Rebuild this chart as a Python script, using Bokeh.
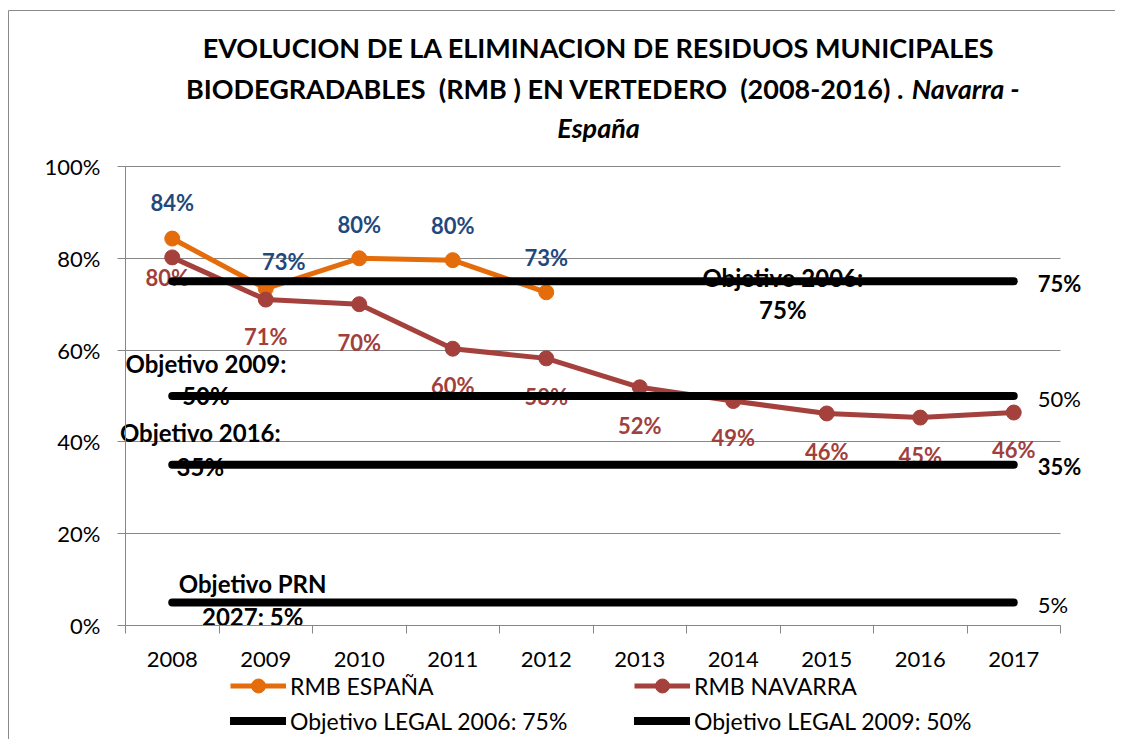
from bokeh.plotting import figure
from bokeh.models import (Range1d, FixedTicker, NumeralTickFormatter, ColumnDataSource,
                          LabelSet, Label, Legend, LegendItem, BoxAnnotation)
from bokeh.core.properties import value
from bokeh.embed import file_html
from bokeh.resources import INLINE

# ---------------- data ----------------
years = ["2008", "2009", "2010", "2011", "2012", "2013", "2014", "2015", "2016", "2017"]
espana = [84.3, 73.4, 80.0, 79.6, 72.6]            # % RMB a vertedero, España (2008-2012)
navarra = [80.2, 71.0, 70.0, 60.3, 58.2, 51.9, 48.9, 46.2, 45.3, 46.4]  # % Navarra
target_values = [75, 50, 35, 5]
target_top = ["Objetivo 2006:", "Objetivo 2009:", "Objetivo 2016:", "Objetivo PRN"]
target_bottom = ["75%", "50%", "35%", "2027: 5%"]
legend_names = ["RMB ESPAÑA", "RMB NAVARRA", "Objetivo LEGAL 2006: 75%", "Objetivo LEGAL 2009: 50%"]
y_ticks = [0, 0.2, 0.4, 0.6, 0.8, 1.0]
title_line1 = "EVOLUCION DE LA ELIMINACION DE RESIDUOS MUNICIPALES"
title_line2a = "BIODEGRADABLES \u00a0(RMB ) EN VERTEDERO \u00a0(2008-2016) ."
title_line2b = "Navarra -"
title_line3 = "España"

# ---------------- styles / layout ----------------
FONT = "Lato"
ORANGE = "#E46C0A"
RED = "#A5413D"
BLUE_TXT = "#1F497D"
RED_TXT = "#A0403C"
GRID = "#878787"

W, H = 1115, 739
PL, PR, PT, PB = 125, 1060, 166, 625   # plot-area edges in pixels
n = len(years)
ux = (PR - PL) / n
uy = (PB - PT) / 1.0
x0 = -0.5 - PL / ux
x1 = -0.5 + (W - PL) / ux
y1 = 1.0 + PT / uy
y0 = -(H - PB) / uy

es_dx = [0, 18, 0, 0, 0]
es_dy = [36, 27, 34, 35, 35]
nav_dx = [-5, 0, 0, 0, 0, 0, 0, 0, 0, 0]
nav_dy = [-20, -37, -38, -37, -38, -38, -36, -38, -38, -37]
target_lab_x = [6.53, 0.36, 0.30, 0.86]
target_lab_dy_top = [4, 33, 32, 19]
target_lab_dy_bot = [-28, 1, -2, -14]
right_weight = ["bold", "normal", "bold", "normal"]

idx = list(range(n))

p = figure(width=W, height=H, x_range=Range1d(x0, x1), y_range=Range1d(y0, y1),
           output_backend="svg", toolbar_location=None,
           min_border_left=0, min_border_right=0, min_border_top=0, min_border_bottom=0)
p.outline_line_color = None
p.background_fill_color = "white"
p.border_fill_color = "white"

# axes (fixed inside the canvas at the plot-area edges)
xa = p.xaxis[0]
xa.fixed_location = 0
xa.bounds = (-0.5, n - 0.5)
xa.ticker = FixedTicker(ticks=idx, minor_ticks=[i - 0.5 for i in range(n + 1)])
xa.major_label_overrides = {i: y for i, y in enumerate(years)}
xa.major_tick_out = 0
xa.major_tick_in = 0
xa.minor_tick_out = 8
xa.minor_tick_in = 0
xa.minor_tick_line_color = GRID
xa.axis_line_color = GRID
xa.major_label_text_font = FONT
xa.major_label_text_font_size = "22px"
xa.major_label_text_color = "black"
xa.major_label_standoff = 18

ya = p.yaxis[0]
ya.fixed_location = -0.5
ya.bounds = (0, 1)
ya.ticker = FixedTicker(ticks=y_ticks)
ya.formatter = NumeralTickFormatter(format="0%")
ya.major_tick_out = 8
ya.major_tick_in = 0
ya.major_tick_line_color = GRID
ya.minor_tick_line_color = None
ya.axis_line_color = GRID
ya.major_label_text_font = FONT
ya.major_label_text_font_size = "22px"
ya.major_label_text_color = "black"
ya.major_label_standoff = 17

p.xgrid.grid_line_color = None
p.ygrid.grid_line_color = GRID
p.ygrid.ticker = FixedTicker(ticks=y_ticks)
p.ygrid.cross_bounds = (-0.5, n - 0.5)

# chart border
p.add_layout(BoxAnnotation(left=8, right=W + 50, top=10, bottom=H + 50,
                           left_units="canvas", right_units="canvas",
                           top_units="canvas", bottom_units="canvas",
                           fill_alpha=0, line_color="#8a8a8a", line_alpha=1, line_width=1,
                           level="underlay"))

# data labels (under lines)
es_src = ColumnDataSource(dict(x=idx[:len(espana)], y=[v / 100 for v in espana],
                               t=["%d%%" % round(v) for v in espana], dx=es_dx, dy=es_dy))
nav_src = ColumnDataSource(dict(x=idx[:len(navarra)], y=[v / 100 for v in navarra],
                                t=["%d%%" % round(v) for v in navarra], dx=nav_dx, dy=nav_dy))
for src, col in [(es_src, BLUE_TXT), (nav_src, RED_TXT)]:
    p.add_layout(LabelSet(x="x", y="y", text="t", source=src, x_offset="dx", y_offset="dy",
                          text_align="center", text_baseline="middle", text_font=value(FONT),
                          text_font_size=value("22px"), text_font_style=value("bold"),
                          text_color=value(col), level="underlay"))

# target annotations
for i, v in enumerate(target_values):
    p.add_layout(Label(x=target_lab_x[i], y=v / 100, y_offset=target_lab_dy_top[i],
                       text=target_top[i], text_align="center", text_baseline="middle",
                       text_font=FONT, text_font_size="24px", text_font_style="bold",
                       text_color="black", level="underlay"))
    p.add_layout(Label(x=target_lab_x[i], y=v / 100, y_offset=target_lab_dy_bot[i],
                       text=target_bottom[i], text_align="center", text_baseline="middle",
                       text_font=FONT, text_font_size="24px", text_font_style="bold",
                       text_color="black", level="underlay"))
    p.add_layout(Label(x=n - 1, y=v / 100, x_offset=24, y_offset=-2,
                       text="%d%%" % v, text_align="left", text_baseline="middle",
                       text_font=FONT, text_font_size="22px", text_font_style=right_weight[i],
                       text_color="black"))

# series
es_y = [v / 100 for v in espana]
nav_y = [v / 100 for v in navarra]
es_line = p.line(idx[:len(espana)], es_y, line_color=ORANGE, line_width=5)
es_pts = p.scatter(idx[:len(espana)], es_y, size=15, fill_color=ORANGE, line_color=ORANGE)
nav_line = p.line(idx, nav_y, line_color=RED, line_width=5)
nav_pts = p.scatter(idx, nav_y, size=15, fill_color=RED, line_color=RED)

obj_lines = []
for v in target_values:
    r = p.line([idx[0], idx[-1]], [v / 100, v / 100], line_color="black", line_width=8,
               line_cap="round")
    obj_lines.append(r)

# title
for txt, xx, yy, align, style in [
        (title_line1, 4.56, 1.260, "center", "bold"),
        (title_line2a, 7.83, 1.171, "right", "bold"),
        (title_line2b, 7.91, 1.171, "left", "bold italic"),
        (title_line3, 4.56, 1.086, "center", "bold italic")]:
    p.add_layout(Label(x=xx, y=yy, text=txt, text_align=align, text_baseline="middle",
                       text_font=FONT, text_font_size="27px", text_font_style=style,
                       text_color="black"))

legend = Legend(items=[
    LegendItem(label=legend_names[0], renderers=[es_line, es_pts]),
    LegendItem(label=legend_names[1], renderers=[nav_line, nav_pts]),
    LegendItem(label=legend_names[2], renderers=[obj_lines[0]]),
    LegendItem(label=legend_names[3], renderers=[obj_lines[1]]),
], orientation="horizontal", ncols=2, location=(230, 1),
    glyph_width=56, glyph_height=35, label_standoff=4, label_width=344, spacing=0,
    padding=0, margin=0, border_line_color=None, background_fill_alpha=0,
    label_text_font=FONT, label_text_font_size="23px", label_text_color="black")
p.add_layout(legend, "center")

open("out.html", "w").write(file_html(p, INLINE))
